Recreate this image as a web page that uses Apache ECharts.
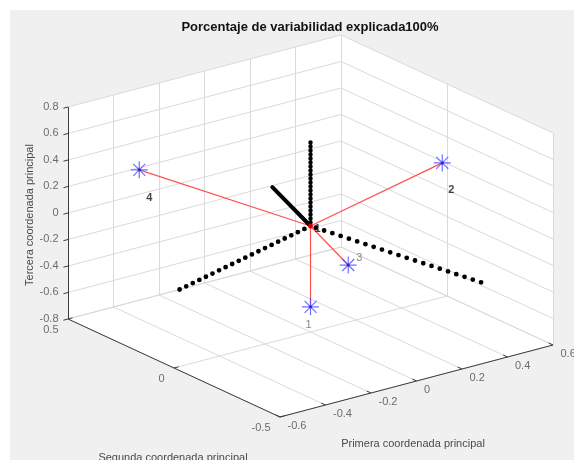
<!DOCTYPE html>
<html>
<head>
<meta charset="utf-8">
<script src="https://cdn.jsdelivr.net/npm/echarts@6/dist/echarts.min.js"></script>
<style>
html,body{margin:0;padding:0;background:#fff;}
#chart{width:574px;height:460px;}
</style>
</head>
<body>
<div id="chart"></div>
<script>
// 坐标轴刻度
var xTicks = [-0.6, -0.4, -0.2, 0, 0.2, 0.4, 0.6];
var xLabels = ['-0.6', '-0.4', '-0.2', '0', '0.2', '0.4', '0.6'];
var yTicks = [-0.5, 0, 0.5];
var yLabels = ['-0.5', '0', '0.5'];
var zTicks = [-0.8, -0.6, -0.4, -0.2, 0, 0.2, 0.4, 0.6, 0.8];
var zLabels = ['-0.8', '-0.6', '-0.4', '-0.2', '0', '0.2', '0.4', '0.6', '0.8'];

// 观测点 (主坐标)
var ptNames = ['1', '2', '3', '4'];
var ptX = [0, 0.43, 0.11, -0.38];
var ptY = [0, -0.16, -0.06, 0.40];
var ptZ = [-0.61, 0.40, -0.30, 0.30];

// 黑色线段的端点 (另一端在原点)
var segX = [0, 0, -0.51, 0.377];
var segY = [0, 0.18, 0.07, -0.40];
var segZ = [0.63, 0.16, -0.30, -0.30];

var xMin = xTicks[0], xMax = xTicks[xTicks.length - 1];
var yMin = yTicks[0], yMax = yTicks[yTicks.length - 1];
var zMin = zTicks[0], zMax = zTicks[zTicks.length - 1];

// 视角 (az=-37.5, el=30 的正交投影)
var view = { ox: 310.5, oy: 226, ex: [227.5, -60], ey: [-212, -98], ez: [0, -132.5] };
function proj(x, y, z) {
  return [view.ox + x * view.ex[0] + y * view.ey[0] + z * view.ez[0],
          view.oy + x * view.ex[1] + y * view.ey[1] + z * view.ez[1]];
}

// 背面三个面
var faces = [
  [[xMin, yMax, zMin], [xMax, yMax, zMin], [xMax, yMax, zMax], [xMin, yMax, zMax]],
  [[xMax, yMax, zMin], [xMax, yMin, zMin], [xMax, yMin, zMax], [xMax, yMax, zMax]],
  [[xMin, yMax, zMin], [xMax, yMax, zMin], [xMax, yMin, zMin], [xMin, yMin, zMin]]
];

// 网格线
var gridLines = [];
xTicks.forEach(function (x) {
  gridLines.push({ coords: [proj(x, yMin, zMin), proj(x, yMax, zMin)] });
  gridLines.push({ coords: [proj(x, yMax, zMin), proj(x, yMax, zMax)] });
});
yTicks.forEach(function (y) {
  gridLines.push({ coords: [proj(xMin, y, zMin), proj(xMax, y, zMin)] });
  gridLines.push({ coords: [proj(xMax, y, zMin), proj(xMax, y, zMax)] });
});
zTicks.forEach(function (z) {
  gridLines.push({ coords: [proj(xMin, yMax, z), proj(xMax, yMax, z)] });
  gridLines.push({ coords: [proj(xMax, yMin, z), proj(xMax, yMax, z)] });
});

// 坐标轴和刻度线
var tk = 0.02;
var axisLines = [
  { coords: [proj(xMin, yMin, zMin), proj(xMax, yMin, zMin)] },
  { coords: [proj(xMin, yMin, zMin), proj(xMin, yMax, zMin)] },
  { coords: [proj(xMin, yMax, zMin), proj(xMin, yMax, zMax)] }
];
xTicks.forEach(function (x) {
  axisLines.push({ coords: [proj(x, yMin, zMin), proj(x, yMin + tk, zMin)] });
});
yTicks.forEach(function (y) {
  axisLines.push({ coords: [proj(xMin, y, zMin), proj(xMin + tk, y, zMin)] });
});
zTicks.forEach(function (z) {
  axisLines.push({ coords: [proj(xMin, yMax, z), proj(xMin - tk, yMax, z)] });
});

var lblStyle = { show: true, fontFamily: 'Liberation Sans', fontSize: 11, color: '#4a4a4a' };
function tickData(vals, names, f) {
  return vals.map(function (v, i) { return { name: names[i], value: f(v) }; });
}

// 红色连线
var redLines = ptX.map(function (x, i) {
  return { coords: [proj(0, 0, 0), proj(x, ptY[i], ptZ[i])] };
});
// 黑色线段样式 (点线从外端开始画)
var segStyles = [
  { type: [0, 4], cap: 'round', width: 4.5 },
  { type: 'solid', cap: 'round', width: 4 },
  { type: [0, 7.3], cap: 'round', width: 4.8 },
  { type: [0, 8.7], cap: 'round', width: 4.8 }
];
var blackLines = segX.map(function (x, i) {
  var s = segStyles[i];
  return { coords: [proj(x, segY[i], segZ[i]), proj(0, 0, 0)],
    lineStyle: { color: '#000', width: s.width, type: s.type, cap: s.cap } };
});

// 星号符号
function starPath() {
  var s = '', w = 0.07;
  [0, 45, 90, 135].forEach(function (a) {
    var r = a * Math.PI / 180, c = Math.cos(r), sn = Math.sin(r);
    var nx = -sn * w, ny = c * w;
    var p = [[-c + nx, -sn + ny], [c + nx, sn + ny], [c - nx, sn - ny], [-c - nx, -sn - ny]];
    s += 'M' + p.map(function (q) { return (q[0] + 2).toFixed(3) + ' ' + (q[1] + 2).toFixed(3); }).join('L') + 'Z';
  });
  return 'path://' + s;
}

var ptData = ptX.map(function (x, i) { return { name: ptNames[i], value: proj(x, ptY[i], ptZ[i]) }; });
var ptLabelCfg = [
  { offset: [-2, 18], color: '#6a6a6a', fontWeight: 'normal' },
  { offset: [9, 27], color: '#111', fontWeight: 'bold' },
  { offset: [11, -7], color: '#6a6a6a', fontWeight: 'normal' },
  { offset: [10, 28], color: '#111', fontWeight: 'bold' }
];
var ptLabels = ptData.map(function (d, i) {
  var c = ptLabelCfg[i];
  return { name: d.name, value: d.value,
    label: { show: true, position: 'inside', offset: c.offset, color: c.color, fontWeight: c.fontWeight } };
});

var myChart = echarts.init(document.getElementById('chart'));
var option = {
  animation: false,
  graphic: [
    { type: 'rect', z: -10, shape: { x: 10, y: 10, width: 564, height: 450 }, style: { fill: '#f0f0f0' } },
    { type: 'text', x: 310, y: 27, style: { text: 'Porcentaje de variabilidad explicada100%', fill: '#111',
      font: 'bold 13px "Liberation Sans"', align: 'center', verticalAlign: 'middle' } },
    { type: 'text', x: 413, y: 444, style: { text: 'Primera coordenada principal', fill: '#4a4a4a',
      font: '11px "Liberation Sans"', align: 'center', verticalAlign: 'middle' } },
    { type: 'text', x: 173, y: 458, style: { text: 'Segunda coordenada principal', fill: '#4a4a4a',
      font: '11px "Liberation Sans"', align: 'center', verticalAlign: 'middle' } },
    { type: 'text', x: 30, y: 215, rotation: Math.PI / 2, style: { text: 'Tercera coordenada principal', fill: '#4a4a4a',
      font: '11px "Liberation Sans"', align: 'center', verticalAlign: 'middle' } }
  ],
  grid: { left: 0, right: 0, top: 0, bottom: 0 },
  xAxis: { type: 'value', min: 0, max: 574, show: false },
  yAxis: { type: 'value', min: 0, max: 460, inverse: true, show: false },
  series: [
    {
      type: 'custom', clip: false, silent: true,
      data: faces.map(function (f, i) { return [i, 0]; }),
      renderItem: function (params, api) {
        var f = faces[params.dataIndex];
        return { type: 'polygon', shape: { points: f.map(function (p) { return api.coord(proj(p[0], p[1], p[2])); }) },
          style: { fill: '#ffffff' } };
      }
    },
    { type: 'lines', coordinateSystem: 'cartesian2d', silent: true, data: gridLines,
      lineStyle: { color: '#dadada', width: 1, opacity: 1 } },
    { type: 'lines', coordinateSystem: 'cartesian2d', silent: true, data: axisLines,
      lineStyle: { color: '#3c3c3c', width: 1, opacity: 1 } },
    { type: 'scatter', symbolSize: 1, itemStyle: { color: 'transparent' },
      data: tickData(xTicks, xLabels, function (v) { return proj(v, yMin, zMin); }),
      label: Object.assign({ position: [8, 4], align: 'left', verticalAlign: 'top', formatter: '{b}' }, lblStyle) },
    { type: 'scatter', symbolSize: 1, itemStyle: { color: 'transparent' },
      data: tickData(yTicks, yLabels, function (v) { return proj(xMin, v, zMin); }),
      label: Object.assign({ position: [-9, 11], align: 'right', verticalAlign: 'middle', formatter: '{b}' }, lblStyle) },
    { type: 'scatter', symbolSize: 1, itemStyle: { color: 'transparent' },
      data: tickData(zTicks, zLabels, function (v) { return proj(xMin, yMax, v); }),
      label: Object.assign({ position: [-9, 0], align: 'right', verticalAlign: 'middle', formatter: '{b}' }, lblStyle) },
    { type: 'lines', coordinateSystem: 'cartesian2d', silent: true, data: redLines,
      lineStyle: { color: '#ff5050', width: 1.2, opacity: 1 } },
    { type: 'lines', coordinateSystem: 'cartesian2d', silent: true, data: blackLines,
      lineStyle: { color: '#000', opacity: 1 } },
    { type: 'scatter', symbol: starPath(), symbolSize: 17, itemStyle: { color: '#4b4bff' }, data: ptData },
    { type: 'scatter', symbol: 'circle', symbolSize: 3, itemStyle: { color: '#1a1aa0' }, data: ptData },
    { type: 'scatter', symbol: 'circle', symbolSize: 5, itemStyle: { color: '#ff0000' },
      data: [{ name: '1', value: proj(0, 0, 0),
        label: { show: true, position: 'inside', offset: [7, 3], color: '#111', fontWeight: 'bold' } }],
      label: { fontFamily: 'Liberation Sans', fontSize: 11, formatter: '{b}' } },
    { type: 'scatter', symbolSize: 1, itemStyle: { color: 'transparent' }, data: ptLabels,
      label: { fontFamily: 'Liberation Sans', fontSize: 11, formatter: '{b}' } }
  ]
};
myChart.setOption(option);
window.addEventListener('resize', function () {
  myChart.resize();
});
</script>
</body>
</html>
